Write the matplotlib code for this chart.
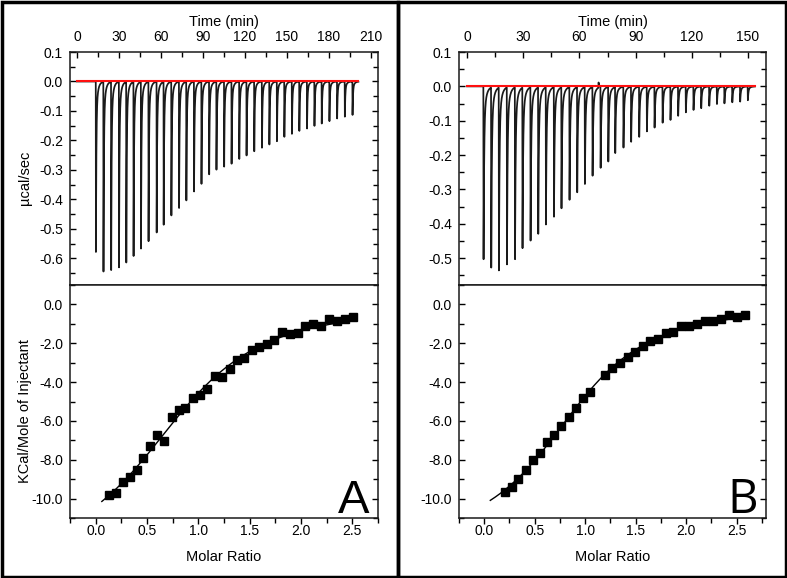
"""ITC titration panels A and B: raw thermogram (top) and integrated heats with one-site fit (bottom)."""

import numpy as np
import matplotlib
matplotlib.use("Agg")
import matplotlib.pyplot as plt
from matplotlib.patches import Rectangle
from matplotlib.ticker import MultipleLocator, FuncFormatter

plt.rcParams["font.family"] = ["Liberation Sans", "DejaVu Sans"]

# ---- panel A: raw injections (time in min, peak power in ucal/sec)
A_INJ_TIME = [13.4, 18.8, 24.3, 29.9, 35.1, 40.3, 45.6, 51.0, 56.8, 61.8, 67.3, 72.8,
              78.0, 83.5, 88.8, 94.3, 99.5, 105.0, 110.3, 115.8, 121.0, 126.5, 132.0,
              137.3, 142.7, 148.0, 153.4, 158.7, 164.2, 169.5, 174.7, 180.2, 185.7,
              191.2, 196.7]
A_PEAK = [-0.578, -0.643, -0.638, -0.629, -0.612, -0.590, -0.565, -0.540, -0.511,
          -0.484, -0.453, -0.428, -0.402, -0.372, -0.346, -0.314, -0.298, -0.288,
          -0.278, -0.262, -0.250, -0.236, -0.224, -0.213, -0.202, -0.187, -0.177,
          -0.167, -0.159, -0.150, -0.142, -0.134, -0.125, -0.119, -0.113]
A_RUN_END = 201.0

# ---- panel A: integrated heats (molar ratio, kcal/mol of injectant)
A_RATIO = [0.130, 0.195, 0.263, 0.331, 0.400, 0.465, 0.533, 0.601, 0.669, 0.741,
           0.809, 0.874, 0.949, 1.017, 1.085, 1.163, 1.231, 1.306, 1.377, 1.446,
           1.524, 1.595, 1.667, 1.741, 1.816, 1.891, 1.966, 2.040, 2.115, 2.190,
           2.268, 2.346, 2.424, 2.502]
A_HEAT = [-9.83, -9.69, -9.14, -8.88, -8.52, -7.89, -7.28, -6.74, -7.01, -5.79,
          -5.45, -5.36, -4.83, -4.66, -4.35, -3.71, -3.73, -3.32, -2.87, -2.75,
          -2.34, -2.18, -2.04, -1.84, -1.44, -1.51, -1.46, -1.13, -1.01, -1.13,
          -0.77, -0.86, -0.77, -0.67]

# ---- panel B: raw injections
B_INJ_TIME = [8.7, 12.8, 16.9, 21.2, 25.5, 29.5, 33.8, 37.9, 42.0, 46.3, 50.3, 54.6,
              58.7, 62.8, 66.9, 71.2, 75.3, 79.0, 83.4, 87.5, 91.8, 95.9, 100.0,
              104.3, 108.5, 112.6, 116.7, 120.8, 124.9, 129.2, 133.3, 137.3, 141.5,
              145.7, 149.8]
B_PEAK = [-0.503, -0.524, -0.532, -0.515, -0.500, -0.467, -0.446, -0.426, -0.399,
          -0.377, -0.352, -0.328, -0.306, -0.282, -0.258, -0.237, -0.217, -0.192,
          -0.177, -0.160, -0.146, -0.130, -0.119, -0.105, -0.097, -0.085, -0.075,
          -0.068, -0.063, -0.056, -0.051, -0.049, -0.046, -0.044, -0.040]
B_BLIP_TIME = 70.1
B_BLIP = 0.015
B_RUN_END = 153.7

# ---- panel B: integrated heats
B_RATIO = [0.201, 0.270, 0.339, 0.411, 0.481, 0.553, 0.622, 0.692, 0.764, 0.836,
           0.905, 0.978, 1.050, 1.199, 1.268, 1.347, 1.419, 1.495, 1.571, 1.646,
           1.725, 1.801, 1.874, 1.950, 2.029, 2.108, 2.187, 2.263, 2.342, 2.421,
           2.503, 2.582]
B_HEAT = [-9.64, -9.38, -9.00, -8.51, -8.02, -7.65, -7.11, -6.70, -6.24, -5.81,
          -5.34, -4.83, -4.50, -3.62, -3.25, -3.04, -2.73, -2.47, -2.15, -1.89,
          -1.77, -1.49, -1.44, -1.13, -1.13, -1.00, -0.84, -0.84, -0.74, -0.57,
          -0.63, -0.57]

FIT_START = 0.06

W, H = 787, 578


def fig_rect(x0, y0, x1, y1):
    """Pixel box (top-left origin) -> figure fraction rect."""
    return [x0 / W, 1 - y1 / H, (x1 - x0) / W, (y1 - y0) / H]


def thermogram(times, peaks, t_end, blips=()):
    """Build a baseline trace with a sharp drop and a fast decay for each injection."""
    t = np.arange(0.0, t_end, 0.02)
    y = np.zeros_like(t)
    for t0, d in list(zip(times, peaks)) + list(blips):
        rise = 0.12
        dt = t - t0
        down = (dt >= 0) & (dt < rise)
        y[down] += d * dt[down] / rise
        tail = dt >= rise
        s = dt[tail] - rise
        y[tail] += d * (0.8 * np.exp(-s / 0.3) + 0.2 * np.exp(-s / 1.2))
    return t, y


def wiseman(x, n, c, dh):
    r = 1.0 / c
    xr = x / n
    return dh * (0.5 + (1 - xr - r) / (2 * np.sqrt((1 + xr + r) ** 2 - 4 * xr)))


def fit_one_site(x, y):
    """Least-squares one-site model: grid over n and c, linear solve for dH."""
    x = np.asarray(x)
    y = np.asarray(y)
    best = None
    for n in np.arange(0.6, 1.6, 0.01):
        for c in np.geomspace(0.5, 200, 300):
            g = wiseman(x, n, c, 1.0)
            dh = np.dot(g, y) / np.dot(g, g)
            sse = np.sum((y - dh * g) ** 2)
            if best is None or sse < best[0]:
                best = (sse, n, c, dh)
    return best[1:]


def fmt1(v, _):
    s = f"{v:.1f}"
    return "0.0" if s == "-0.0" else s


def style_raw(ax, xlim, ylim):
    ax.set_xlim(*xlim)
    ax.set_ylim(*ylim)
    ax.xaxis.set_major_locator(MultipleLocator(30))
    ax.xaxis.set_minor_locator(MultipleLocator(15))
    ax.yaxis.set_major_locator(MultipleLocator(0.1))
    ax.yaxis.set_minor_locator(MultipleLocator(0.05))
    ax.yaxis.set_major_formatter(FuncFormatter(fmt1))
    ax.tick_params(axis="x", which="both", direction="in", top=True, bottom=False,
                   labeltop=True, labelbottom=False, pad=5.5)
    ax.tick_params(axis="y", which="both", direction="in", left=True, right=True, pad=5)
    ax.tick_params(which="major", length=4, width=1.0, labelsize=10)
    ax.tick_params(which="minor", length=3.5, width=1.0)
    ax.text(0.5, 1.13, "Time (min)", transform=ax.transAxes, ha="center",
            va="center", fontsize=10.5)


def style_heat(ax, xlim):
    ax.set_xlim(*xlim)
    ax.set_ylim(-11, 1)
    ax.xaxis.set_major_locator(MultipleLocator(0.5))
    ax.xaxis.set_minor_locator(MultipleLocator(0.25))
    ax.yaxis.set_major_locator(MultipleLocator(2))
    ax.yaxis.set_minor_locator(MultipleLocator(1))
    ax.xaxis.set_major_formatter(FuncFormatter(fmt1))
    ax.yaxis.set_major_formatter(FuncFormatter(fmt1))
    ax.tick_params(axis="x", which="both", direction="out", top=False, bottom=True, pad=0.5)
    ax.tick_params(axis="y", which="both", direction="in", left=True, right=True, pad=5)
    ax.tick_params(which="major", length=4, width=1.0, labelsize=10)
    ax.tick_params(which="minor", length=3.5, width=1.0)
    ax.text(0.5, -0.167, "Molar Ratio", transform=ax.transAxes, ha="center",
            va="center", fontsize=10.5)


def draw_panel(fig, px0, px1, raw, heat, raw_lim, heat_xlim, letter, letter_font,
               with_ylabels):
    ax_top = fig.add_axes(fig_rect(px0, 52, px1, 285))
    ax_bot = fig.add_axes(fig_rect(px0, 285, px1, 518))
    for ax in (ax_top, ax_bot):
        for sp in ax.spines.values():
            sp.set_linewidth(1.1)
            sp.set_color("#1a1a1a")

    t, y, t_end = raw
    ax_top.plot(t, y, color="#1a1a1a", lw=1.25)
    ax_top.plot([0, t_end], [0, 0], color="#ff1010", lw=1.5)
    style_raw(ax_top, *raw_lim)

    x, q = heat
    n, c, dh = fit_one_site(x, q)
    xf = np.linspace(FIT_START, max(x), 300)
    ax_bot.plot(xf, wiseman(xf, n, c, dh), color="black", lw=1.0)
    ax_bot.plot(x, q, "s", color="black", ms=5.8)
    style_heat(ax_bot, heat_xlim)
    ax_bot.text(0.973, 0.022, letter, transform=ax_bot.transAxes, ha="right",
                va="baseline", fontsize=34, family=letter_font)

    if with_ylabels:
        ax_top.text(-0.145, 0.46, "\u00b5cal/sec", transform=ax_top.transAxes,
                    rotation=90, ha="center", va="center", fontsize=10.5)
        ax_bot.text(-0.145, 0.46, "KCal/Mole of Injectant", transform=ax_bot.transAxes,
                    rotation=90, ha="center", va="center", fontsize=10.5)
    return ax_top, ax_bot


def main():
    fig = plt.figure(figsize=(7.87, 5.78), dpi=100)

    ta, ya = thermogram(A_INJ_TIME, A_PEAK, A_RUN_END)
    tb, yb = thermogram(B_INJ_TIME, B_PEAK, B_RUN_END, blips=[(B_BLIP_TIME, B_BLIP)])

    draw_panel(fig, 70, 378, (ta, ya, A_RUN_END), (A_RATIO, A_HEAT),
               ((-5, 215), (-0.69, 0.1)), (-0.25, 2.75), "A",
               ["Liberation Sans", "DejaVu Sans"], True)
    draw_panel(fig, 459, 766, (tb, yb, B_RUN_END), (B_RATIO, B_HEAT),
               ((-4.3, 159.6), (-0.578, 0.1)), (-0.25, 2.79), "B",
               ["Open Sans", "DejaVu Sans"], False)

    # outer frames around the two panels
    for x0, x1 in ((1.5, 397.5), (397.5, 785.5)):
        fig.patches.append(Rectangle((x0 / W, 1.5 / H), (x1 - x0) / W, (H - 3) / H,
                                     transform=fig.transFigure, fill=False,
                                     edgecolor="black", lw=2.5))

    fig.savefig("out.png", dpi=100)


if __name__ == "__main__":
    main()
